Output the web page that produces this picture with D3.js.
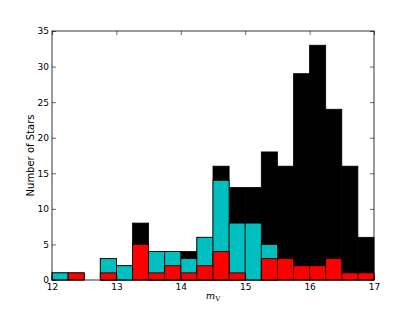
<!DOCTYPE html>
<html>
<head>
<meta charset="utf-8">
<script src="https://cdn.jsdelivr.net/npm/d3@7"></script>
<style>
  body { margin: 0; background: #fff; }
  svg { display: block; font-family: 'DejaVu Sans', sans-serif; }
</style>
</head>
<body>
<div id="chart"></div>
<script>
// Bin edges (m_V), width 0.25
const binStarts = [12, 12.25, 12.5, 12.75, 13, 13.25, 13.5, 13.75, 14, 14.25,
                   14.5, 14.75, 15, 15.25, 15.5, 15.75, 16, 16.25, 16.5, 16.75];
const binWidth = 0.25;

// Counts per bin, drawn back to front
const allStars = [1, 1, 0, 3, 2, 8, 4, 4, 4, 6, 16, 13, 13, 18, 16, 29, 33, 24, 16, 6];
const cyanStars = [1, 0, 0, 3, 2, 0, 4, 4, 3, 6, 14, 8, 8, 5, 0, 0, 0, 0, 0, 0];
const redStars = [0, 1, 0, 1, 0, 5, 1, 2, 1, 2, 4, 1, 0, 3, 3, 2, 2, 3, 1, 1];

const xTicks = [12, 13, 14, 15, 16, 17];
const yTicks = [0, 5, 10, 15, 20, 25, 30, 35];

const width = 415, height = 312;
const margin = { top: 31, right: 41, bottom: 32, left: 52 };

const svg = d3.select('#chart')
  .append('svg')
  .attr('width', width)
  .attr('height', height);

const x = d3.scaleLinear()
  .domain([12, 17])
  .range([margin.left, width - margin.right]);

const y = d3.scaleLinear()
  .domain([0, 35])
  .range([height - margin.bottom, margin.top]);

// Draw one histogram layer
function drawLayer(values, color) {
  svg.append('g')
    .selectAll('rect')
    .data(values.map((v, i) => ({ start: binStarts[i], count: v })).filter(d => d.count > 0))
    .enter()
    .append('rect')
    .attr('x', d => x(d.start))
    .attr('y', d => y(d.count))
    .attr('width', d => x(d.start + binWidth) - x(d.start))
    .attr('height', d => y(0) - y(d.count))
    .attr('fill', color)
    .attr('stroke', '#000')
    .attr('stroke-width', 0.8);
}

drawLayer(allStars, '#000000');
drawLayer(cyanStars, '#00bfbf');
drawLayer(redStars, '#ff0000');

// Inward ticks on all four sides
const tickLen = 4;
const x0 = margin.left, x1 = width - margin.right;
const y0 = height - margin.bottom, y1 = margin.top;

const bottomAxis = svg.append('g')
  .attr('transform', `translate(0,${y0})`)
  .call(d3.axisBottom(x).tickValues(xTicks).tickSize(-tickLen).tickPadding(4).tickFormat(d3.format('d')));
const topAxis = svg.append('g')
  .attr('transform', `translate(0,${y1})`)
  .call(d3.axisTop(x).tickValues(xTicks).tickSize(-tickLen).tickFormat(''));
const leftAxis = svg.append('g')
  .attr('transform', `translate(${x0},0)`)
  .call(d3.axisLeft(y).tickValues(yTicks).tickSize(-tickLen).tickPadding(3).tickFormat(d3.format('d')));
const rightAxis = svg.append('g')
  .attr('transform', `translate(${x1},0)`)
  .call(d3.axisRight(y).tickValues(yTicks).tickSize(-tickLen).tickFormat(''));

[bottomAxis, topAxis, leftAxis, rightAxis].forEach(g => {
  g.select('.domain').remove();
  g.selectAll('line').attr('stroke', '#000').attr('stroke-width', 0.6);
  g.selectAll('text').attr('fill', '#000').style('font-size', '9px')
    .style('font-family', "'DejaVu Sans', sans-serif");
});

// Frame
svg.append('rect')
  .attr('x', x0)
  .attr('y', y1)
  .attr('width', x1 - x0)
  .attr('height', y0 - y1)
  .attr('fill', 'none')
  .attr('stroke', '#000')
  .attr('stroke-width', 0.8);

// Axis labels
svg.append('text')
  .attr('transform', `translate(34,${(y0 + y1) / 2}) rotate(-90)`)
  .attr('text-anchor', 'middle')
  .style('font-size', '10px')
  .text('Number of Stars');

const xl = svg.append('text')
  .attr('x', (x0 + x1) / 2)
  .attr('y', 299)
  .attr('text-anchor', 'middle')
  .style('font-size', '10px')
  .style('font-family', "'DejaVu Serif', serif");
xl.append('tspan').style('font-style', 'italic').text('m');
xl.append('tspan').attr('dy', 2).style('font-size', '7px').text('V');
</script>
</body>
</html>
